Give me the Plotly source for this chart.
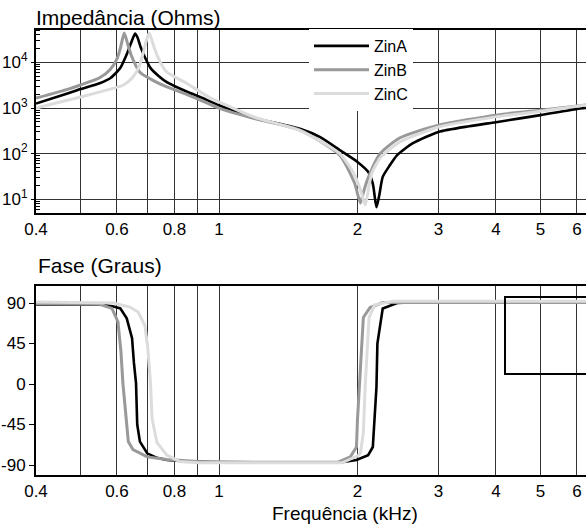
import math
import plotly.graph_objects as go

# ---------------- data ----------------
series_names = ["ZinA", "ZinB", "ZinC"]
series_colors = ["#000000", "#999999", "#dcdcdc"]

# impedance magnitude (Ohms) vs frequency (kHz)
fA = [0.40, 0.47, 0.50, 0.55, 0.58, 0.61, 0.63, 0.645, 0.657, 0.665, 0.675, 0.69, 0.71, 0.74, 0.77, 0.85,
      0.91, 1.0, 1.2, 1.5, 1.66, 1.83, 2.0, 2.11, 2.16, 2.2, 2.23, 2.27, 2.35, 2.44, 2.64, 3.0, 3.5, 4.0,
      5.0, 6.0, 6.28]
zA = [1250, 2100, 2600, 3500, 4500, 7500, 15000, 28000, 43000, 35000, 22000, 13000, 7500, 5000, 3700, 2300,
      1740, 1150, 600, 350, 230, 120, 66, 40, 22, 6.7, 12, 31, 55, 93, 170, 300, 400, 490, 700, 950, 1000]

fB = [0.40, 0.47, 0.50, 0.55, 0.58, 0.60, 0.61, 0.622, 0.63, 0.645, 0.673, 0.72, 0.77, 0.85, 0.91, 1.0,
      1.2, 1.5, 1.83, 1.97, 2.03, 2.06, 2.1, 2.24, 2.47, 3.0, 4.0, 5.0, 6.28]
zB = [1650, 2600, 3200, 4600, 7000, 12000, 20000, 44000, 30000, 14000, 6100, 4000, 2900, 2000, 1500, 1000,
      580, 330, 93, 23, 8.3, 14, 26, 100, 220, 420, 700, 900, 1160]

fC = [0.40, 0.47, 0.50, 0.58, 0.62, 0.65, 0.67, 0.684, 0.695, 0.705, 0.715, 0.726, 0.75, 0.77, 0.85, 0.95,
      1.06, 1.2, 1.5, 1.83, 1.97, 2.04, 2.08, 2.12, 2.15, 2.24, 2.47, 3.0, 4.0, 5.0, 6.28]
zC = [1000, 1500, 1740, 2600, 3200, 4800, 8000, 16000, 30000, 44000, 30000, 18600, 9000, 6100, 3500, 1740,
      1050, 620, 320, 100, 35, 14, 7.5, 20, 38, 80, 180, 385, 640, 850, 1160]

# phase (degrees) vs frequency (kHz)
pfA = [0.40, 0.56, 0.59, 0.61, 0.63, 0.647, 0.653, 0.66, 0.664, 0.673, 0.698, 0.733, 0.77, 0.85, 1.0, 1.5,
       1.85, 1.99, 2.11, 2.16, 2.18, 2.2, 2.21, 2.24, 2.27, 2.44, 2.7, 6.28]
pA = [88, 88, 86, 84, 73, 51, 24, 1, -45, -64, -77, -82, -84.5, -86, -87, -87.5,
      -87, -84.5, -79, -70, -40, -3, 45, 63, 84, 90, 91, 91]

pfB = [0.40, 0.55, 0.585, 0.603, 0.612, 0.618, 0.63, 0.635, 0.65, 0.698, 0.77, 0.9, 1.2, 1.81, 1.93, 1.99,
       2.0, 2.02, 2.04, 2.06, 2.13, 2.27, 6.28]
pB = [89, 88.5, 84, 69, 36, 1, -45, -64, -73, -81, -84, -86, -87, -87, -81, -70,
      -40, 0, 45, 74, 85, 90.5, 90.5]

pfC = [0.40, 0.59, 0.64, 0.667, 0.69, 0.70, 0.71, 0.715, 0.733, 0.77, 0.82, 0.9, 1.85, 2.0, 2.03, 2.06,
       2.08, 2.1, 2.12, 2.18, 2.39, 6.28]
pC = [91, 90, 85.5, 80, 65, 40, -1, -38, -65, -79, -86, -87.5, -87.5, -80, -77, -54,
      0, 45, 74, 88, 92, 92]

x_tickvals = [0.4, 0.6, 0.8, 1, 2, 3, 4, 5, 6]
x_ticktext = ["0.4", "0.6", "0.8", "1", "2", "3", "4", "5", "6"]
x_minor = [0.5, 0.7, 0.9]
z_tickvals = [10, 100, 1000, 10000]
z_ticktext = ["10<sup>1</sup>", "10<sup>2</sup>", "10<sup>3</sup>", "10<sup>4</sup>"]
z_minor = [m * 10 ** d for d in range(0, 5) for m in range(2, 10)]
p_tickvals = [90, 45, 0, -45, -90]
p_ticktext = ["90", "45", "0", "-45", "-90"]

# ---------------- figure ----------------
FONT = "Liberation Sans, Arial, sans-serif"
GRID = "#333333"
W, H = 586, 524
ML, MR, MT, MB = 36, 0, 30, 49
PH = H - MT - MB

def py(p):  # pixel row -> paper y
    return (H - MB - p) / PH

def px(p):  # pixel col -> paper x
    return (p - ML) / (W - ML - MR)

fig = go.Figure()
freqs = [fA, fB, fC]
mags = [zA, zB, zC]
pfreqs = [pfA, pfB, pfC]
phases = [pA, pB, pC]
widths = [2.6, 3.0, 3.0]
for i in range(3):
    fig.add_trace(go.Scatter(x=freqs[i], y=mags[i], mode="lines", name=series_names[i],
                             line=dict(color=series_colors[i], width=widths[i], shape="spline", smoothing=0.6),
                             xaxis="x", yaxis="y"))
for i in range(3):
    fig.add_trace(go.Scatter(x=pfreqs[i], y=phases[i], mode="lines", name=series_names[i],
                             showlegend=False,
                             line=dict(color=series_colors[i], width=widths[i]),
                             xaxis="x2", yaxis="y2"))

xr = [math.log10(0.4), 0.798]
xcommon = dict(type="log", range=xr, tickmode="array", tickvals=x_tickvals, ticktext=x_ticktext,
               showgrid=True, gridcolor=GRID, gridwidth=1, ticks="", zeroline=False,
               minor=dict(tickmode="array", tickvals=x_minor, showgrid=True, gridcolor=GRID, gridwidth=1, ticks=""),
               showline=True, linecolor="#000", linewidth=2, mirror=True,
               tickfont=dict(family=FONT, size=17, color="#000"))

fig.update_layout(
    width=W, height=H,
    margin=dict(l=ML, r=MR, t=MT, b=MB),
    paper_bgcolor="white", plot_bgcolor="white",
    font=dict(family=FONT, color="#000"),
    xaxis=dict(domain=[0, 1], anchor="y", **xcommon),
    xaxis2=dict(domain=[0, 1], anchor="y2", **xcommon),
    yaxis=dict(domain=[py(213), 1], anchor="x", type="log", range=[0.70, 4.71],
               tickmode="array", tickvals=z_tickvals, ticktext=z_ticktext,
               showgrid=True, gridcolor=GRID, gridwidth=1, zeroline=False,
               ticks="outside", ticklen=3, tickcolor="#000",
               minor=dict(tickmode="array", tickvals=z_minor, ticks="inside", ticklen=4,
                          tickcolor="#000", showgrid=False),
               showline=True, linecolor="#000", linewidth=2,
               tickfont=dict(family=FONT, size=17, color="#000")),
    yaxis2=dict(domain=[0, py(286)], anchor="x2", range=[-101.1, 108.9],
                tickmode="array", tickvals=p_tickvals, ticktext=p_ticktext,
                showgrid=False, zeroline=False, ticks="outside", ticklen=5, tickcolor="#000",
                showline=True, linecolor="#000", linewidth=2,
                tickfont=dict(family=FONT, size=17, color="#000")),
    yaxis3=dict(domain=[0, py(286)], overlaying="y2", anchor="x2", range=[-107.56, 99.88],
                tickmode="array", tickvals=[93.3] + p_tickvals, showticklabels=False,
                showgrid=True, gridcolor=GRID, gridwidth=1, zeroline=False, ticks="", showline=False),
    legend=dict(x=px(309), y=py(29), xanchor="left", yanchor="top", bgcolor="white",
                borderwidth=0, font=dict(family=FONT, size=16, color="#000"),
                itemwidth=55, tracegroupgap=0),
    showlegend=True,
    annotations=[
        dict(text="Impedância (Ohms)", xref="paper", yref="paper", x=px(34), y=py(18),
             xanchor="left", yanchor="middle", showarrow=False, font=dict(family=FONT, size=21, color="#000")),
        dict(text="Fase (Graus)", xref="paper", yref="paper", x=px(36), y=py(265),
             xanchor="left", yanchor="middle", showarrow=False, font=dict(family=FONT, size=21, color="#000")),
        dict(text="Frequência (kHz)", xref="paper", yref="paper", x=px(345), y=py(513),
             xanchor="center", yanchor="middle", showarrow=False, font=dict(family=FONT, size=19, color="#000")),
    ],
    shapes=[
        dict(type="rect", xref="paper", yref="paper", x0=px(505), x1=px(600), y0=py(374), y1=py(297),
             line=dict(color="#000", width=2), fillcolor="rgba(0,0,0,0)", layer="above"),
    ],
)

fig.write_html("out.html")
